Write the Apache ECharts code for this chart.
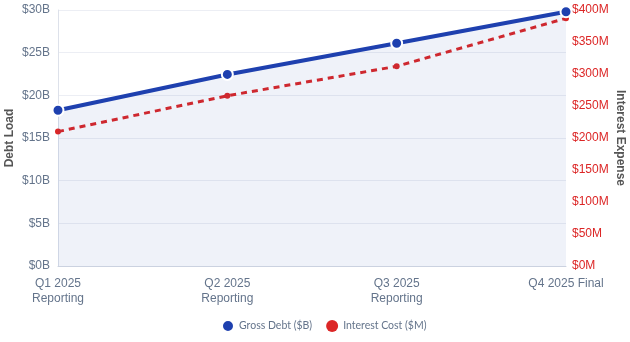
<!DOCTYPE html>
<html><head><meta charset="utf-8">
<script src="https://cdn.jsdelivr.net/npm/echarts@6/dist/echarts.min.js"></script>
<style>html,body{margin:0;padding:0;background:#fff}#c{width:630px;height:342px}</style>
</head><body><div id="c"></div>
<script>
const categories = ['Q1 2025\nReporting', 'Q2 2025\nReporting', 'Q3 2025\nReporting', 'Q4 2025 Final'];
const grossDebt = [18.25, 22.45, 26.1, 29.8];
const interestCost = [210, 266, 312, 387];
const leftTicks = { min: 0, max: 30, interval: 5 };
const rightTicks = { min: 0, max: 400, interval: 50 };

const chart = echarts.init(document.getElementById('c'));
chart.setOption({
  animation: false,
  textStyle: { fontFamily: 'Arial, Liberation Sans, sans-serif' },
  grid: { left: 58, right: 64, top: 10, bottom: 76, containLabel: false, outerBoundsMode: 'none' },
  legend: {
    bottom: 4, left: 216, itemWidth: 12, itemHeight: 12, itemGap: 14, icon: 'circle',
    textStyle: { color: '#64748b', fontSize: 10.5, fontFamily: 'Lato, sans-serif' },
    data: ['Gross Debt ($B)', 'Interest Cost ($M)']
  },
  xAxis: {
    type: 'category', data: categories, boundaryGap: false,
    axisLine: { lineStyle: { color: '#cbd2e0' } }, axisTick: { show: false },
    axisLabel: { color: '#64748b', fontSize: 12, lineHeight: 15, margin: 10, interval: 0 },
    splitLine: { show: false }
  },
  yAxis: [{
    type: 'value', min: leftTicks.min, max: leftTicks.max, interval: leftTicks.interval,
    name: 'Debt Load', nameLocation: 'middle', nameGap: 42, nameRotate: 90, nameMoveOverlap: false,
    nameTextStyle: { color: '#555', fontWeight: 'bold', fontSize: 12 },
    axisLabel: { color: '#64748b', fontSize: 12, formatter: v => '$' + v + 'B', margin: 8 },
    axisLine: { show: true, lineStyle: { color: '#dde1ea' } }, axisTick: { show: false },
    splitLine: { lineStyle: { color: '#eceef4' } }
  }, {
    type: 'value', min: rightTicks.min, max: rightTicks.max, interval: rightTicks.interval,
    name: 'Interest Expense', nameLocation: 'middle', nameGap: 48, nameRotate: -90, nameMoveOverlap: false,
    nameTextStyle: { color: '#555', fontWeight: 'bold', fontSize: 12 },
    axisLabel: { color: '#dc2626', fontSize: 12, formatter: v => '$' + v + 'M', margin: 6 },
    axisLine: { show: false }, axisTick: { show: false }, splitLine: { show: false }
  }],
  series: [{
    name: 'Gross Debt ($B)', type: 'line', yAxisIndex: 0, data: grossDebt,
    symbol: 'circle', symbolSize: 11,
    itemStyle: { color: '#1e40af', borderColor: '#fff', borderWidth: 2 },
    lineStyle: { color: '#1e40af', width: 4 },
    areaStyle: { color: 'rgba(30,64,175,0.1)' }, z: 3
  }, {
    name: 'Interest Cost ($M)', type: 'line', yAxisIndex: 1, data: interestCost,
    symbol: 'circle', symbolSize: 6,
    itemStyle: { color: '#dc2626' },
    lineStyle: { color: '#dc2626', width: 3, type: [6, 5] }, z: 2
  }]
});
</script></body></html>
